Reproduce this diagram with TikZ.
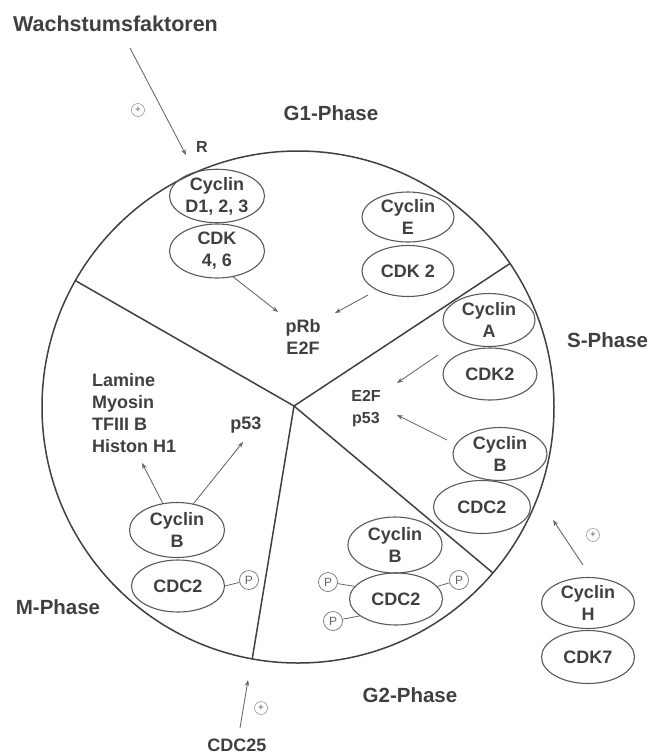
\documentclass[tikz,border=0pt]{standalone}
\usepackage{fontspec}
\setmainfont{Liberation Sans}
\usetikzlibrary{shapes.geometric,arrows.meta}
\begin{document}
\begin{tikzpicture}[x=1pt,y=-1pt,
  lbl/.style={font=\fontsize{18}{22}\selectfont\bfseries, text=black!75, align=center, inner sep=0pt},
  small/.style={font=\fontsize{16}{22}\selectfont\bfseries, text=black!75, align=center, inner sep=0pt},
  phase/.style={font=\fontsize{20.5}{24}\selectfont\bfseries, text=black!75, inner sep=0pt},
  oval/.style={ellipse, draw=black!65, line width=1.1pt, minimum width=93pt, minimum height=52pt, inner sep=0pt, lbl},
  arr/.style={draw=black!60, line width=0.85pt, -{Stealth[length=6pt,width=4.5pt]}},
  plus/.style={circle, draw=black!40, line width=0.6pt, minimum size=13pt, inner sep=0pt, font=\fontsize{9}{9}\selectfont\bfseries, text=black!50},
  pcirc/.style={circle, draw=black!55, line width=0.7pt, minimum size=19pt, inner sep=0pt, font=\fontsize{12}{12}\selectfont, text=black!60},
  pline/.style={draw=black!60, line width=0.8pt},
  divider/.style={draw=black!75, line width=1.5pt}
  ]
\useasboundingbox (0,0) rectangle (651,756);

% cell circle and phase dividers
\draw[divider] (298,407) circle (256pt);
\coordinate (hub) at (294,406);
\coordinate (dUL) at (75.4,280.6);
\coordinate (dUR) at (510,263.5);
\coordinate (dLR) at (493,573);
\coordinate (dB) at (252.2,659);
\draw[divider] (dUL) -- (hub) -- (dUR);
\draw[divider] (hub) -- (dLR);
\draw[divider] (hub) -- (dB);

% phase labels
\node[phase] (g1) at (331,113) {G1-Phase};
\node[phase, anchor=west] (sph) at (567,340) {S-Phase};
\node[phase] (g2) at (410,695) {G2-Phase};
\node[phase] (mph) at (58,607) {M-Phase};

% growth factors
\node[phase, font=\fontsize{21.5}{24}\selectfont\bfseries, anchor=west] (wf) at (13,24) {Wachstumsfaktoren};
\coordinate (wfs) at (130,48);
\coordinate (wfe) at (186,155);
\draw[arr] (wfs) -- (wfe);
\node[plus] (plus1) at (138,110) {+};
\node[small] (R) at (202,147) {R};

% G1 complexes
\node[oval, minimum width=95pt, minimum height=49pt] (cycD) at (217,196) {Cyclin\\D1, 2, 3};
\node[oval, minimum width=95pt, minimum height=54pt] (cdk46) at (217,251) {CDK\\4, 6};
\node[oval, minimum width=92pt, minimum height=50pt] (cycE) at (408,217) {Cyclin\\E};
\node[oval, minimum width=92pt, minimum height=51pt] (cdk2) at (408,271) {CDK 2};
\node[lbl] (prb) at (303,337) {pRb\\E2F};
\coordinate (prbL) at (278,312);
\coordinate (prbR) at (335,313);
\coordinate (cdk2s) at (368,295);
\draw[arr] (cdk46.-58) -- (prbL);
\draw[arr] (cdk2s) -- (prbR);

% S complexes
\node[oval, minimum width=92pt, minimum height=53pt] (cycA) at (489,320) {Cyclin\\A};
\node[oval, minimum width=94pt, minimum height=52pt] (cdk2S) at (490,374) {CDK2};
\node[oval, minimum width=94pt, minimum height=53pt] (cycBS) at (500,454) {Cyclin\\B};
\node[oval, minimum width=97pt, minimum height=53pt] (cdc2S) at (482,507) {CDC2};
\node[small] (e2f) at (366,409) {E2F\\p53};
\coordinate (e2fT) at (397,383);
\coordinate (e2fB) at (397,415);
\coordinate (cdk2Ss) at (438,355);
\coordinate (cycBSs) at (447,440);
\draw[arr] (cdk2Ss) -- (e2fT);
\draw[arr] (cycBSs) -- (e2fB);

% G2 complex
\node[oval, minimum width=94pt, minimum height=56pt] (cycBG) at (395,545) {Cyclin\\B};
\node[oval, minimum width=93pt, minimum height=52pt] (cdc2G) at (396,599) {CDC2};
\node[pcirc] (pG1) at (328,582) {P};
\node[pcirc] (pG2) at (459,580) {P};
\node[pcirc] (pG3) at (333,621) {P};
\draw[pline] (pG1) -- (cdc2G.163);
\draw[pline] (pG2) -- (cdc2G.17);
\draw[pline] (pG3) -- (cdc2G.205);

% M complex
\node[oval, minimum width=95pt, minimum height=55pt] (cycBM) at (177,530) {Cyclin\\B};
\node[oval, minimum width=93pt, minimum height=52pt] (cdc2M) at (178,586) {CDC2};
\node[pcirc] (pM) at (249,580) {P};
\draw[pline] (cdc2M.east) -- (pM);
\node[lbl, align=left, anchor=west] (lam) at (92,413) {Lamine\\Myosin\\TFIII B\\Histon H1};
\node[lbl] (p53M) at (246,425) {p53};
\coordinate (lamE) at (142,463);
\coordinate (p53E) at (243,442);
\draw[arr] (cycBM.118) -- (lamE);
\draw[arr] (cycBM.58) -- (p53E);

% CAK (Cyclin H / CDK7)
\node[oval, minimum width=93pt, minimum height=51pt] (cycH) at (588,603) {Cyclin\\H};
\node[oval, minimum width=93pt, minimum height=53pt] (cdk7) at (588,657) {CDK7};
\coordinate (hS) at (583,565);
\coordinate (hE) at (553,520);
\draw[arr] (hS) -- (hE);
\node[plus] (plus2) at (593,535) {+};

% CDC25
\node[lbl] (cdc25) at (237,745) {CDC25};
\coordinate (c25S) at (240,728);
\coordinate (c25E) at (248,680);
\draw[arr] (c25S) -- (c25E);
\node[plus] (plus3) at (261,708) {+};
\end{tikzpicture}
\end{document}
